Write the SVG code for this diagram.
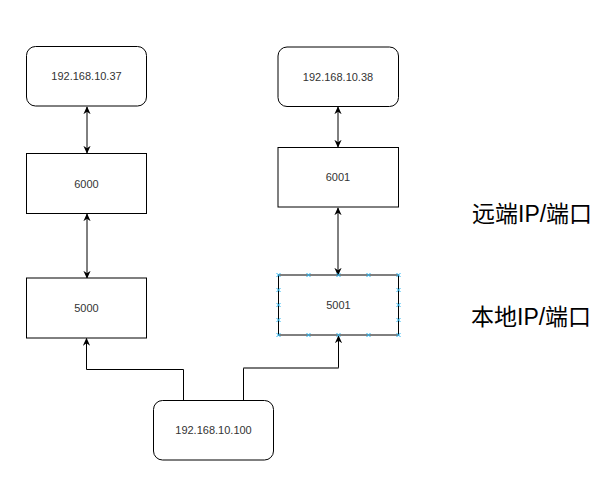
<svg xmlns="http://www.w3.org/2000/svg" width="615" height="502" viewBox="0 0 615 502">
<defs>
<style>
.box{fill:#fff;stroke:#000;stroke-width:1}
.lbl{font-family:"Liberation Sans",Arial,sans-serif;font-size:11px;fill:#333;text-anchor:middle}
.big{font-family:"Liberation Sans","Noto Sans CJK SC",sans-serif;font-size:23px;fill:#000}
.edge{fill:none;stroke:#000;stroke-width:1}
.hnd{stroke:#29b6f2;stroke-width:1;fill:none}
</style>
<marker id="ah" viewBox="0 0 10 10" refX="9" refY="5" markerWidth="8" markerHeight="8" orient="auto-start-reverse" markerUnits="userSpaceOnUse">
<path d="M0,0.5 L10,5 L0,9.5 L3,5 Z" fill="#000"/>
</marker>
</defs>
<rect width="615" height="502" fill="#fff"/>
<g id="edges">
<line class="edge" x1="87" y1="107" x2="87" y2="153" marker-start="url(#ah)" marker-end="url(#ah)"/>
<line class="edge" x1="87" y1="214" x2="87" y2="278" marker-start="url(#ah)" marker-end="url(#ah)"/>
<line class="edge" x1="338" y1="107" x2="338" y2="147" marker-start="url(#ah)" marker-end="url(#ah)"/>
<line class="edge" x1="338" y1="208" x2="338" y2="275" marker-start="url(#ah)" marker-end="url(#ah)"/>
<path class="edge" d="M183.5,400 L183.5,369.5 L86.5,369.5 L86.5,338.5" marker-end="url(#ah)"/>
<path class="edge" d="M243.5,400 L243.5,368 L338.5,368 L338.5,336" marker-end="url(#ah)"/>
<line x1="243.5" y1="368" x2="338.5" y2="368" stroke="#777" stroke-width="1.5"/>
</g>
<g id="n37"><rect class="box" x="26.5" y="46.5" width="120" height="59.5" rx="9"/><text class="lbl" x="86.5" y="80">192.168.10.37</text></g>
<g id="n38"><rect class="box" x="278" y="47" width="120.5" height="59.5" rx="9"/><text class="lbl" x="338" y="80.5">192.168.10.38</text></g>
<g id="n6000"><rect class="box" x="26.5" y="153.5" width="120" height="60"/><text class="lbl" x="86.5" y="187.5">6000</text></g>
<g id="n6001"><rect class="box" x="278" y="147.5" width="120.5" height="59.5"/><text class="lbl" x="338" y="181">6001</text></g>
<g id="n5000"><rect class="box" x="26.5" y="278" width="120" height="60"/><text class="lbl" x="86.5" y="312">5000</text></g>
<g id="n5001"><rect class="box" x="278.5" y="275" width="120" height="60"/><text class="lbl" x="338.5" y="309">5001</text>
<g class="hnd">
<path d="M276.5,273 l4,4 m0,-4 l-4,4 M306.5,273 l4,4 m0,-4 l-4,4 M336.5,273 l4,4 m0,-4 l-4,4 M366.5,273 l4,4 m0,-4 l-4,4 M396.5,273 l4,4 m0,-4 l-4,4"/>
<path d="M276.5,333 l4,4 m0,-4 l-4,4 M306.5,333 l4,4 m0,-4 l-4,4 M336.5,333 l4,4 m0,-4 l-4,4 M366.5,333 l4,4 m0,-4 l-4,4 M396.5,333 l4,4 m0,-4 l-4,4"/>
<path d="M276.5,288 l4,4 m0,-4 l-4,4 M276.5,303 l4,4 m0,-4 l-4,4 M276.5,318 l4,4 m0,-4 l-4,4"/>
<path d="M396.5,288 l4,4 m0,-4 l-4,4 M396.5,303 l4,4 m0,-4 l-4,4 M396.5,318 l4,4 m0,-4 l-4,4"/>
</g></g>
<g id="n100"><rect class="box" x="153.5" y="400.5" width="120" height="59.5" rx="9"/><text class="lbl" x="213.5" y="434">192.168.10.100</text></g>
<g id="labels">
<text class="big" x="472" y="222">远端IP/端口</text>
<text class="big" x="471" y="325">本地IP/端口</text>
</g>
</svg>
